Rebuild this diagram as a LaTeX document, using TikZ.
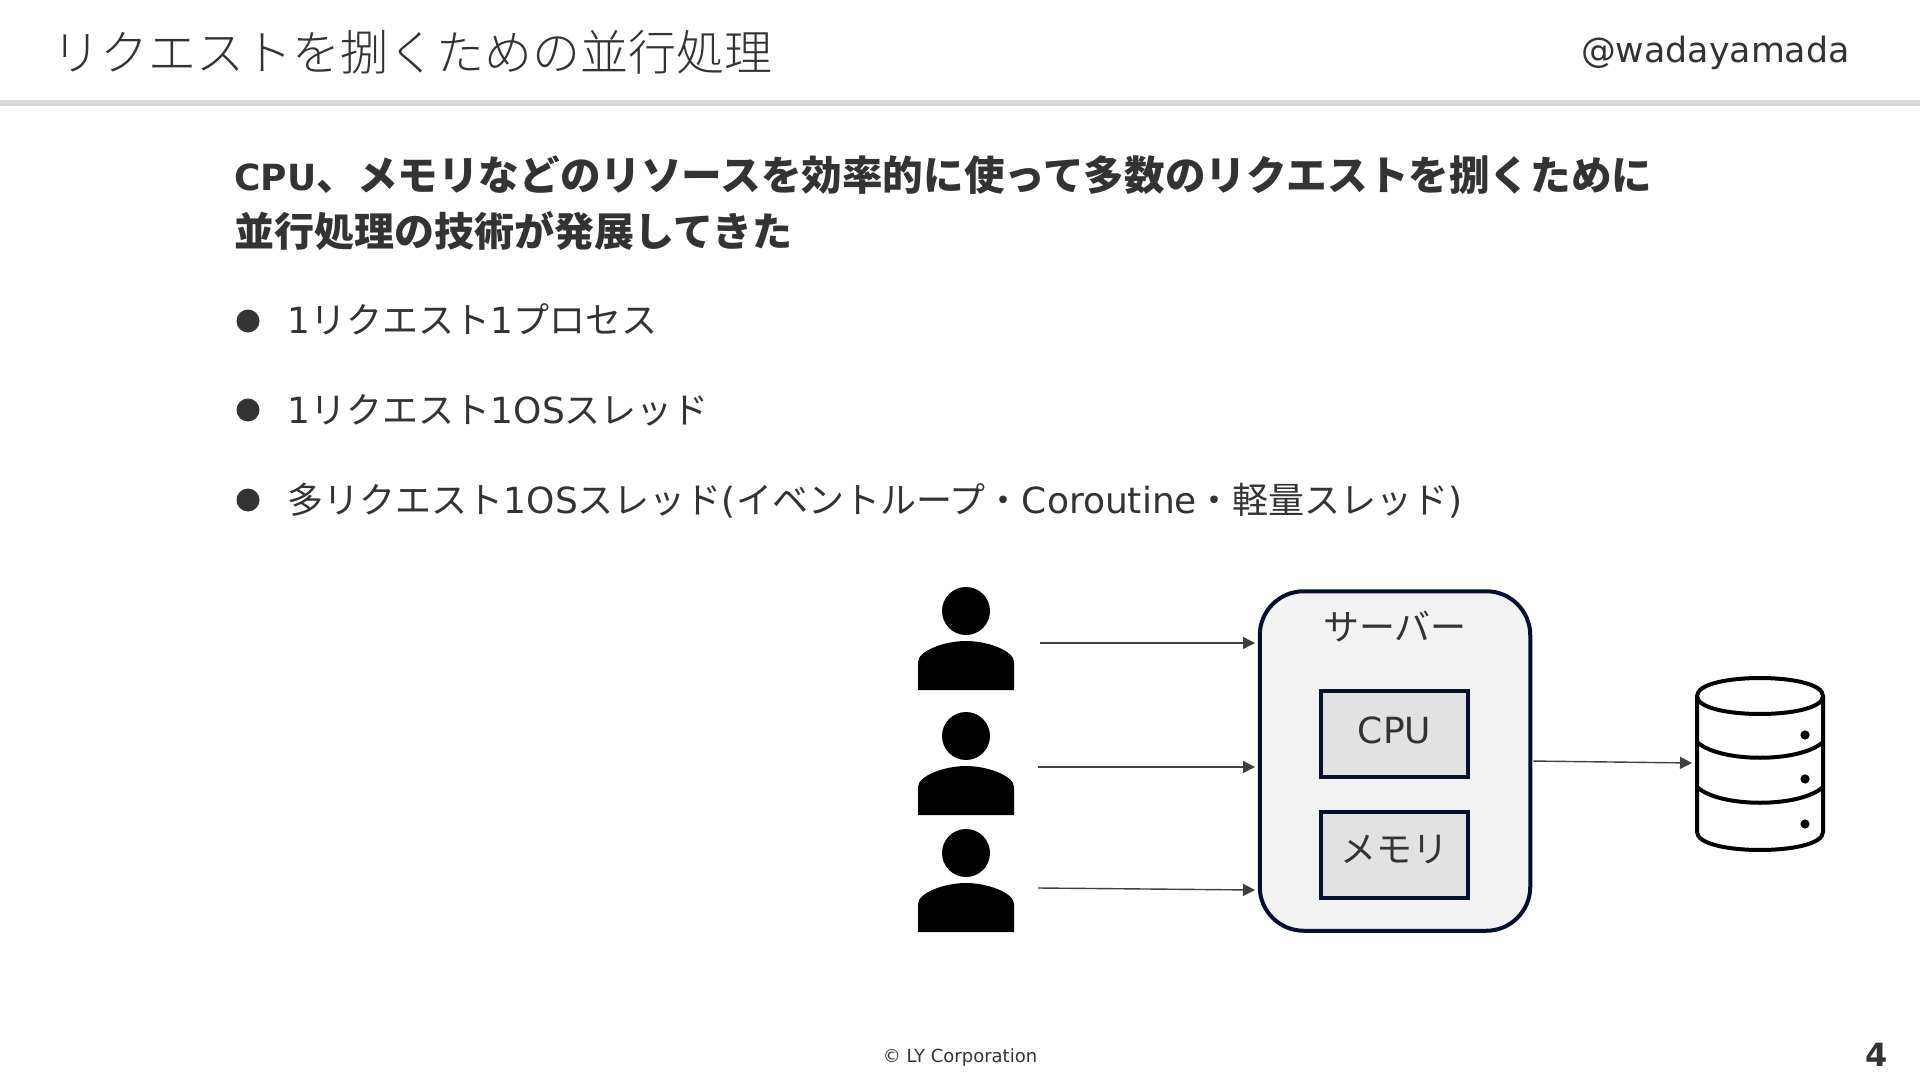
\documentclass[tikz,border=0pt]{standalone}
\usepackage{fontspec}
\setmainfont{DejaVu Sans}
\newfontfamily\jp{Noto Sans CJK JP}
\newfontfamily\jplight{Noto Sans CJK JP Light}
\usetikzlibrary{positioning,calc}
\usetikzlibrary{arrows.meta}
\definecolor{InkGray}{RGB}{51,51,51}
\definecolor{RuleGray}{RGB}{217,217,217}
\definecolor{ServerFill}{RGB}{242,242,242}
\definecolor{PartFill}{RGB}{226,226,226}
\definecolor{BoxNavy}{RGB}{6,16,46}
\definecolor{FlowGray}{RGB}{64,64,64}
\tikzset{
	txt/.style={text=InkGray,inner sep=0pt,anchor=base west},
	dot/.style={circle,fill=InkGray,inner sep=0pt,minimum size=11.5pt},
	server/.style={draw=BoxNavy,fill=ServerFill,line width=2pt,rounded corners=22pt,
		minimum width=135.25pt,minimum height=169.75pt,outer sep=0pt},
	part/.style={draw=BoxNavy,fill=PartFill,line width=2pt,minimum width=73.5pt,
		minimum height=43pt,outer sep=0pt},
	partlabel/.style={text=InkGray,inner sep=0pt,font=\jp\fontsize{18}{18}\selectfont},
	slot/.style={inner sep=0pt,outer sep=0pt},
	flow/.style={draw=FlowGray,line width=0.7pt,-{Triangle[length=6pt,width=6pt]}},
	usericon/.pic={
		\fill[black] (0,0) circle (12pt);
		\fill[black] (-48,79) -- (-48,51) .. controls (-48,40) and (-22,30) .. (0,30)
			.. controls (22,30) and (48,40) .. (48,51) -- (48,79) -- cycle;
	},
}

\begin{document}
\begin{tikzpicture}[x=0.5pt,y=-0.5pt]
	\useasboundingbox (0,0) rectangle (1920,1080);
	\fill[RuleGray] (0,100) rectangle (1920,106);
	\node[txt] (title) at (52,71) {\jplight\fontsize{24}{24}\selectfont リクエストを捌くための並行処理};
	\node[txt,anchor=base east] (handle) at (1850,63) {\fontsize{17.4}{18}\selectfont @wadayamada};
	\node[txt] (lead1) at (234,191) {\fontsize{18}{20}\selectfont\bfseries CPU{\jp\fontsize{20.3}{20}\selectfont 、メモリなどのリソースを効率的に使って多数のリクエストを捌くために}};
	\node[txt] (lead2) at (234,247) {\jp\fontsize{20}{20}\selectfont\bfseries 並行処理の技術が発展してきた};
	% bullets
	\foreach \n/\y/\t in {1/321/{1{\jp リクエスト}1{\jp プロセス}},
		2/410/{1{\jp リクエスト}1OS{\jp スレッド}},
		3/500/{{\jp 多リクエスト}1OS{\jp スレッド}({\jp イベントループ・}Coroutine{\jp ・軽量スレッド})}}{
		\node[dot] (dot\n) at (248,\y) {};
		\node[txt,font=\fontsize{18}{18}\selectfont] (item\n) at (287.5,\y+13) {\t};
	}
	% server
	\node[server] (server) at (1395,761) {};
	\node[partlabel] (serverlabel) at (1395,627) {サーバー};
	\node[part] (cpu) at (1394.5,734) {};
	\node[partlabel,font=\fontsize{18}{18}\selectfont] (cpulabel) at (1394.5,730) {CPU};
	\node[part] (memory) at (1394.5,855) {};
	\node[partlabel] (memorylabel) at (1394,850) {メモリ};
	% users
	\foreach \n/\hy/\ay/\ux in {1/611/643/1040,2/736/767/1038,3/853/888/1038}{
		\pic at (966,\hy) {usericon};
		\coordinate (user\n) at (\ux,\ay);
	}
	\coordinate (in1) at (1255,643);
	\coordinate (in2) at (1255,767);
	\coordinate (in3) at (1255,890);
	\foreach \n in {1,2,3}
	\draw[flow] (user\n)--(in\n);
	% storage
	\node[slot,minimum width=68pt,minimum height=85.5pt] (db) at (1760,763) {};
	\draw[line width=2pt,black,line join=round] (1697,696) -- (1697,832)
		.. controls (1697,856) and (1823,856) .. (1823,832) -- (1823,696)
		.. controls (1823,672) and (1697,672) .. (1697,696)
		.. controls (1697,720) and (1823,720) .. (1823,696);
	\foreach \y in {742,787}
	\draw[line width=2pt,black] (1697,\y) .. controls (1720,\y+21) and (1800,\y+21) .. (1823,\y);
	\foreach \y in {735,779,824}
	\fill[black] (1805,\y) circle (2.3pt);
	\draw[flow,shorten <=1.5pt] (server.east)--(db.west);
	% footer
	\node[text=InkGray,inner sep=0pt,font=\fontsize{9}{10}\selectfont] (footer) at (960,1058) {© LY Corporation};
	\node[text=InkGray,inner sep=0pt,font=\fontsize{16}{16}\selectfont\bfseries] (page) at (1877,1055) {4};
\end{tikzpicture}
\end{document}
